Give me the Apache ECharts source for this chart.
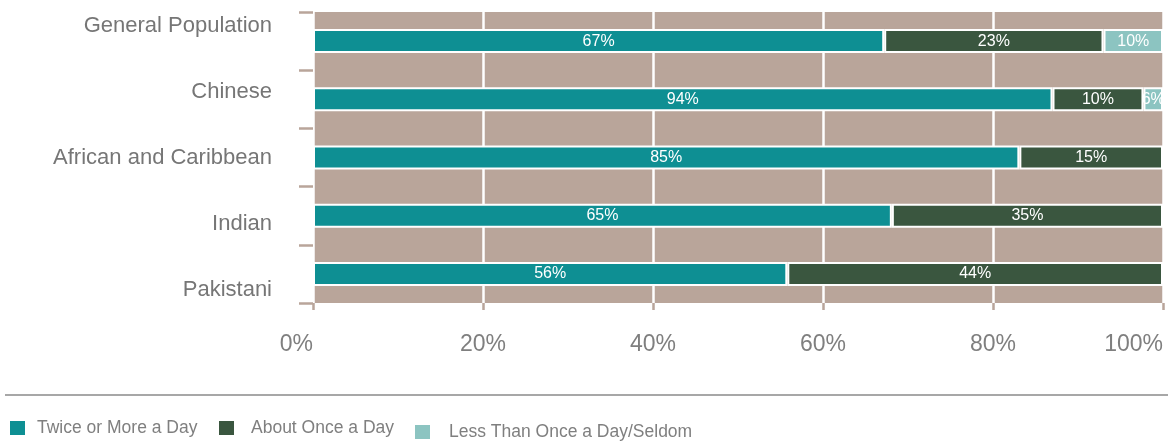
<!DOCTYPE html>
<html>
<head>
<meta charset="utf-8">
<script src="https://cdn.jsdelivr.net/npm/echarts@6/dist/echarts.min.js"></script>
<style>
html,body{margin:0;padding:0;background:#fff;}
#chart{width:1168px;height:444px;}
</style>
</head>
<body>
<div id="chart"></div>
<script>
var categories = ['General Population', 'Chinese', 'African and Caribbean', 'Indian', 'Pakistani'];
var seriesNames = ['Twice or More a Day', 'About Once a Day', 'Less Than Once a Day/Seldom'];
var twiceValues = [67.2, 87, 83.1, 68.1, 55.8];
var onceValues = [25.8, 10.7, 16.9, 31.9, 44.2];
var lessValues = [7, 2.3, null, null, null];
var twiceLabels = ['67%', '94%', '85%', '65%', '56%'];
var onceLabels = ['23%', '10%', '15%', '35%', '44%'];
var lessLabels = ['10%', '6%', '', '', ''];
var xTicks = [0, 20, 40, 60, 80, 100];

var SANS = "'Liberation Sans', Arial, sans-serif";
var TEAL = '#0e8f93', DARK = '#3a563f', LIGHT = '#8cc4c1', TAUPE = '#b9a59a';

var chart = echarts.init(document.getElementById('chart'), null, {renderer: 'canvas'});

function mkSeries(name, values, labels, color) {
  return {
    name: name,
    type: 'bar',
    stack: 'total',
    xAxisIndex: 0,
    yAxisIndex: 0,
    barWidth: 24,
    data: values,
    itemStyle: {color: color, borderColor: '#ffffff', borderWidth: 2},
    label: {
      show: true,
      position: 'inside',
      color: '#ffffff',
      fontFamily: SANS,
      fontSize: 16,
      formatter: function (p) { return labels[p.dataIndex]; }
    },
    emphasis: {disabled: true},
    animation: false
  };
}

function mkLegend(name, left, top, gap) {
  return {
    data: [name],
    left: left,
    top: top,
    orient: 'horizontal',
    itemWidth: 17,
    itemHeight: 16,
    icon: 'rect',
    padding: 0,
    textStyle: {fontFamily: SANS, fontSize: 17.5, color: '#7f7f7f', padding: [0, 0, 0, gap]},
    selectedMode: false
  };
}

var option = {
  animation: false,
  backgroundColor: '#ffffff',
  grid: [
    {left: 313, right: 5, top: 12, bottom: 141, show: true, backgroundColor: TAUPE, borderWidth: 0, containLabel: false, outerBoundsMode: 'none'},
    {left: 273, width: 10, top: -7, height: 330, show: false, containLabel: false, outerBoundsMode: 'none'}
  ],
  xAxis: [
    {
      type: 'value', gridIndex: 0, min: xTicks[0], max: xTicks[xTicks.length - 1], interval: 20,
      axisLine: {show: false},
      axisTick: {show: true, length: 7, lineStyle: {color: TAUPE, width: 2.5}},
      splitLine: {show: true, lineStyle: {color: '#ffffff', width: 2.5}},
      axisLabel: {
        formatter: '{value}%', margin: 30, color: '#7f7f7f', fontFamily: SANS, fontSize: 23,
        alignMinLabel: 'right', alignMaxLabel: 'right'
      }
    },
    {type: 'value', gridIndex: 1, show: false}
  ],
  yAxis: [
    {
      type: 'category', gridIndex: 0, inverse: true, data: categories,
      axisLine: {show: false},
      axisTick: {show: true, length: 14, lineStyle: {color: TAUPE, width: 2.5}},
      axisLabel: {show: false},
      splitLine: {show: false}
    },
    {
      type: 'category', gridIndex: 1, inverse: true, data: categories,
      axisLine: {show: false},
      axisTick: {show: false},
      axisLabel: {show: true, margin: 1, color: '#767676', fontFamily: SANS, fontSize: 22}
    }
  ],
  legend: [
    mkLegend(seriesNames[0], 8, 419, 6),
    mkLegend(seriesNames[1], 217, 419, 11),
    mkLegend(seriesNames[2], 413, 423, 13)
  ],
  graphic: [
    {type: 'line', shape: {x1: 5, y1: 395, x2: 1168, y2: 395}, style: {stroke: '#8a8a8a', lineWidth: 1.5}, silent: true}
  ],
  series: [
    mkSeries(seriesNames[0], twiceValues, twiceLabels, TEAL),
    mkSeries(seriesNames[1], onceValues, onceLabels, DARK),
    mkSeries(seriesNames[2], lessValues, lessLabels, LIGHT)
  ]
};
chart.setOption(option);
</script>
</body>
</html>
